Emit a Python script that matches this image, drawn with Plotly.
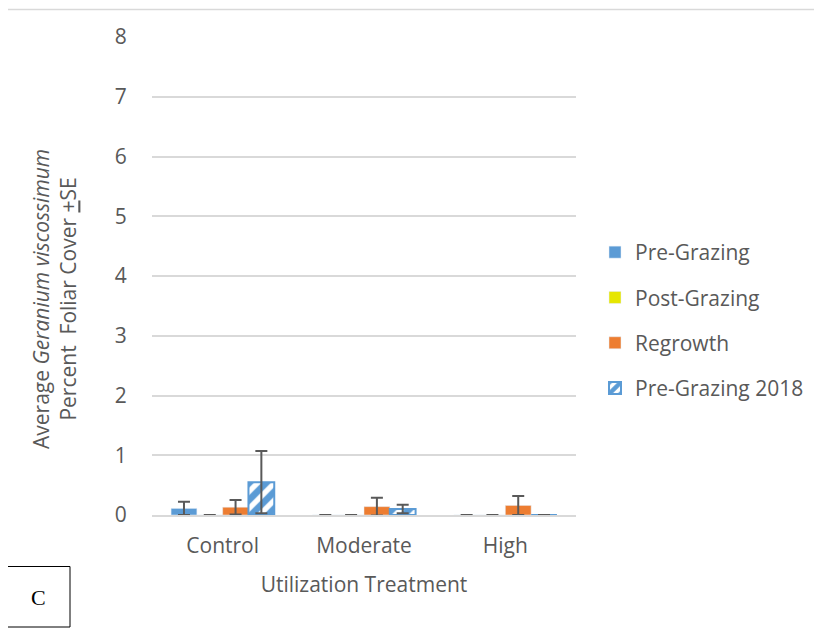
import plotly.graph_objects as go

categories = ["Control", "Moderate", "High"]
pre_grazing = [0.11, 0.0, 0.0]
pre_grazing_se = [0.11, 0.0, 0.0]
post_grazing = [0.0, 0.0, 0.0]
post_grazing_se = [0.0, 0.0, 0.0]
regrowth = [0.13, 0.14, 0.16]
regrowth_se = [0.12, 0.15, 0.16]
pre_grazing_2018 = [0.55, 0.10, 0.0]
pre_grazing_2018_se = [0.52, 0.07, 0.0]
y_ticks = [0, 1, 2, 3, 4, 5, 6, 7, 8]

FONT = "Open Sans"
TXT = "#595959"
ERR = dict(type="data", symmetric=True, color="#595959", thickness=2, width=6)

def err(vals):
    return dict(ERR, array=vals, visible=True)

fig = go.Figure()
fig.add_trace(go.Bar(name="Pre-Grazing", x=categories, y=pre_grazing,
                     marker=dict(color="#5b9bd5"), error_y=err(pre_grazing_se),
                     legendgroup="a"))
fig.add_trace(go.Bar(name="Post-Grazing", x=categories, y=post_grazing,
                     marker=dict(color="#e6e600"), error_y=err(post_grazing_se),
                     legendgroup="b"))
fig.add_trace(go.Bar(name="Regrowth", x=categories, y=regrowth,
                     marker=dict(color="#ed7d31"), error_y=err(regrowth_se),
                     legendgroup="c"))
fig.add_trace(go.Bar(name="Pre-Grazing 2018", x=categories, y=pre_grazing_2018,
                     marker=dict(color="white",
                                 line=dict(color="#5b9bd5", width=2),
                                 pattern=dict(shape="/", fgcolor="#5b9bd5", fgopacity=1,
                                              bgcolor="white", size=12, solidity=0.55,
                                              fillmode="replace")),
                     error_y=err(pre_grazing_2018_se), legendgroup="d"))

# page has an 8px body margin; compensate so the picture lines up
OFF = 8
W, H = 822 - OFF, 629 - OFF
L, R, T, B = 152 - OFF, 246, 37 - OFF, 114
pw, ph = W - L - R, H - T - B

def px_x(x):
    return (x - OFF - L) / pw

def px_y(y):
    return (H - B - (y - OFF)) / ph

fig.update_layout(
    width=W, height=H,
    margin=dict(l=L, r=R, t=T, b=B),
    paper_bgcolor="white", plot_bgcolor="white",
    barmode="group", bargap=0.27, bargroupgap=0,
    font=dict(family=FONT, color=TXT, size=21),
    showlegend=True,
    legend=dict(x=px_x(595), y=px_y(232), xanchor="left", yanchor="top",
                font=dict(size=21, color=TXT), tracegroupgap=15,
                itemwidth=30, bgcolor="rgba(0,0,0,0)"),
    xaxis=dict(showgrid=False, showline=True, linecolor="#d9d9d9", linewidth=2,
               ticks="outside", ticklen=11, tickcolor="rgba(0,0,0,0)",
               tickfont=dict(size=21, color=TXT),
               title=dict(text="Utilization Treatment", font=dict(size=21, color=TXT),
                          standoff=19)),
    yaxis=dict(range=[0, 8], tickvals=y_ticks, showgrid=True, gridcolor="#d9d9d9",
               gridwidth=1.5, zeroline=False, showline=False,
               ticks="outside", ticklen=20, tickcolor="rgba(0,0,0,0)",
               tickfont=dict(size=21, color=TXT)),
    shapes=[
        dict(type="rect", xref="paper", yref="paper",
             x0=px_x(6.5), x1=px_x(840), y0=px_y(660), y1=px_y(9.5),
             line=dict(color="#d9d9d9", width=1.5), layer="below"),
        dict(type="rect", xref="paper", yref="paper",
             x0=px_x(7.5), x1=px_x(70), y0=px_y(627), y1=px_y(566.5),
             line=dict(color="black", width=1), fillcolor="white"),
    ],
    annotations=[
        dict(text="Average <i>Geranium viscossimum</i><br>Percent  Foliar Cover "
                  "<span style='text-decoration:underline'>+</span>SE",
             xref="paper", yref="paper", x=px_x(55), y=px_y(299),
             xanchor="center", yanchor="middle", textangle=-90, showarrow=False,
             font=dict(size=21, color=TXT)),
        dict(text="C", xref="paper", yref="paper", x=px_x(38.5), y=px_y(597),
             xanchor="center", yanchor="middle", showarrow=False,
             font=dict(family="Liberation Serif", size=22, color="black")),
    ],
)

fig.write_html("out.html")
